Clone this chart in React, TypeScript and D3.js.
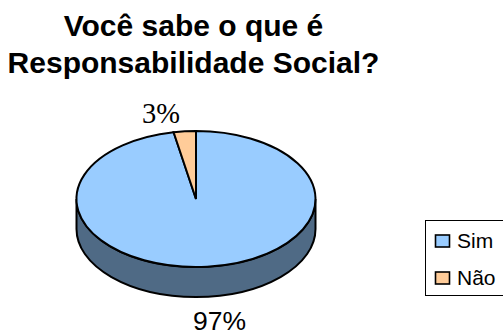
import React from "react";
import * as d3 from "d3";

const categories = ["Sim", "Não"];
const values = [97, 3];
const labels = ["97%", "3%"];
const topColors = ["#99ccff", "#ffcc99"];
const sideColor = "#4f6a85";
const titleLines = ["Você sabe o que é", "Responsabilidade Social?"];

const WIDTH = 503;
const HEIGHT = 332;
const cx = 196;
const cy = 199;
const rx = 119.5;
const ry = 68;
const depth = 30;
const sans = "'Liberation Sans', Arial, sans-serif";

export default function App() {
  const slices = d3.pie<number>().sort(null)(values);
  const arc = d3.arc<d3.PieArcDatum<number>>().innerRadius(0).outerRadius(rx);
  const rim = `M${-rx},0 A${rx},${ry} 0 0 0 ${rx},0 V${depth} A${rx},${ry} 0 0 1 ${-rx},${depth} Z`;

  return (
    <svg
      width={WIDTH}
      height={HEIGHT}
      style={{ position: "fixed", left: 0, top: 0, background: "#fff" }}
    >
      <g fontFamily={sans} fontWeight="bold" fontSize={30} textAnchor="middle" fill="#000">
        {titleLines.map((line, i) => (
          <text key={line} x={193.5} y={36 + i * 37}>
            {line}
          </text>
        ))}
      </g>

      <g transform={`translate(${cx},${cy})`}>
        <path d={rim} fill={sideColor} stroke="#000" strokeWidth={2} />
        <g transform={`scale(1,${ry / rx})`}>
          {slices.map((s, i) => (
            <path
              key={categories[i]}
              d={arc(s) ?? ""}
              fill={topColors[i]}
              stroke="#000"
              strokeWidth={2}
              vectorEffect="non-scaling-stroke"
            />
          ))}
        </g>
      </g>

      <text x={219.5} y={329.5} fontFamily={sans} fontSize={26.5} textAnchor="middle">
        {labels[0]}
      </text>
      <text x={161} y={123} fontFamily="'Liberation Serif', serif" fontSize={28.5} textAnchor="middle">
        {labels[1]}
      </text>

      <rect x={425.5} y={220.5} width={85} height={75} fill="#fff" stroke="#000" strokeWidth={1} />
      {categories.map((c, i) => {
        const y = 235 + i * 37;
        return (
          <g key={c}>
            <rect x={435.5} y={y} width={14} height={12} fill={topColors[i]} stroke="#000" strokeWidth={1.6} />
            <text x={457} y={y + 13} fontFamily={sans} fontSize={21}>
              {c}
            </text>
          </g>
        );
      })}
    </svg>
  );
}
